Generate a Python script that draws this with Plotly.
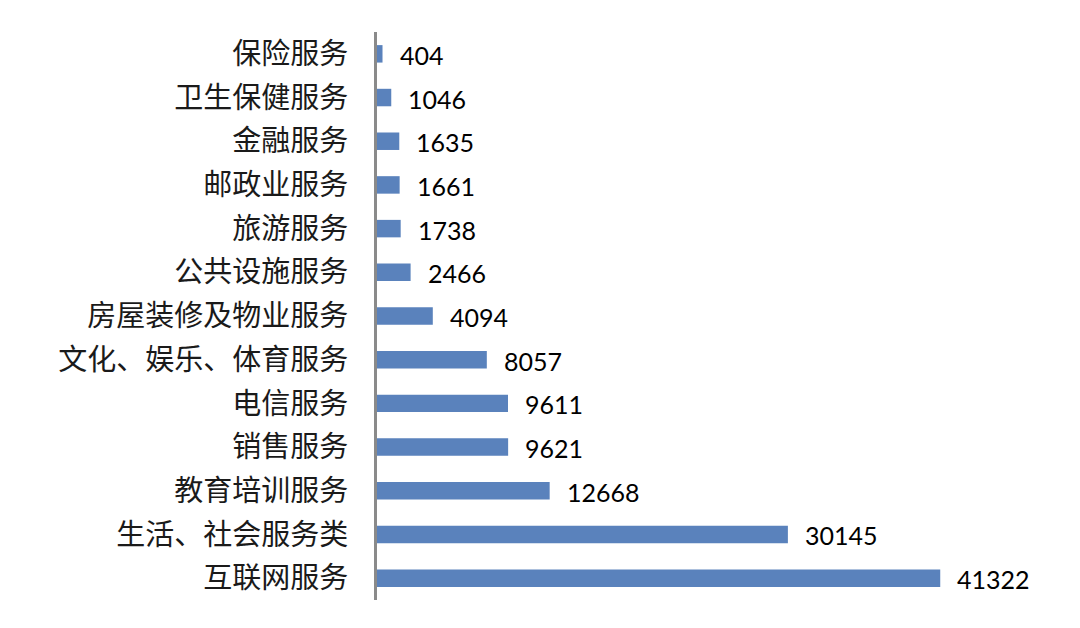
import plotly.graph_objects as go

# categories top-to-bottom as in the picture
categories = ['保险服务', '卫生保健服务', '金融服务', '邮政业服务', '旅游服务',
              '公共设施服务', '房屋装修及物业服务', '文化、娱乐、体育服务',
              '电信服务', '销售服务', '教育培训服务', '生活、社会服务类', '互联网服务']
values = [404, 1046, 1635, 1661, 1738, 2466, 4094, 8057, 9611, 9621, 12668, 30145, 41322]

bar_color = '#5a82bc'

fig = go.Figure()
fig.add_trace(go.Bar(
    y=categories, x=values, orientation='h',
    marker=dict(color=bar_color, line=dict(width=0)),
    width=0.4, hoverinfo='x+y'
))

# value labels to the right of each bar
for cat, val in zip(categories, values):
    fig.add_annotation(x=val, y=cat, text=str(val), showarrow=False,
                       xanchor='left', yanchor='middle', xshift=15, yshift=-1,
                       font=dict(family='Lato, "Open Sans", sans-serif', size=25, color='#000000'))

fig.update_layout(
    width=1080, height=628,
    paper_bgcolor='white', plot_bgcolor='white',
    margin=dict(l=369, r=84, t=24, b=36),
    showlegend=False,
    bargap=0.6,
)
fig.update_xaxes(range=[0, 46000], visible=False, showgrid=False, zeroline=False)
fig.update_yaxes(
    autorange='reversed', showgrid=False, zeroline=False,
    showline=True, linecolor='#8a8a8a', linewidth=3,
    ticks='', ticklabelstandoff=20,
    tickfont=dict(family='"Noto Sans CJK SC", sans-serif', size=29, color='#1a1a1a'),
)

fig.write_html("out.html")
